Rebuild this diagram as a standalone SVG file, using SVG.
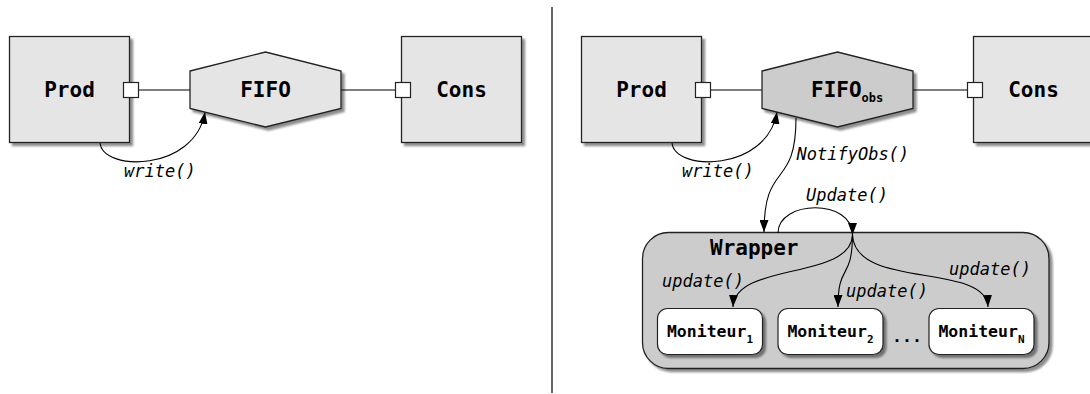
<svg xmlns="http://www.w3.org/2000/svg" width="1090" height="394" viewBox="0 0 1090 394">
<defs>
<filter id="sh" x="-10%" y="-10%" width="130%" height="130%">
<feGaussianBlur in="SourceAlpha" stdDeviation="1.2"/>
<feOffset dx="2.5" dy="2.5" result="b"/>
<feComponentTransfer><feFuncA type="linear" slope="0.45"/></feComponentTransfer>
<feMerge><feMergeNode/><feMergeNode in="SourceGraphic"/></feMerge>
</filter>
<marker id="ah" viewBox="0 0 12 9" refX="12" refY="4.5" markerWidth="12" markerHeight="9" markerUnits="userSpaceOnUse" orient="auto">
<path d="M0,0 L12,4.5 L0,9 Z" fill="#000"/>
</marker>
<style>
.box{fill:#e5e5e5;stroke:#222;stroke-width:1.3}
.hex{fill:#e5e5e5;stroke:#222;stroke-width:1.3}
.hexd{fill:#cccccc;stroke:#222;stroke-width:1.3}
.port{fill:#fff;stroke:#222;stroke-width:1.2}
.wrap{fill:#cccccc;stroke:#222;stroke-width:1.3}
.mon{fill:#fff;stroke:#222;stroke-width:1.2}
.ln{fill:none;stroke:#000;stroke-width:1.1}
.arr{fill:none;stroke:#000;stroke-width:1.1;marker-end:url(#ah)}
.lbl{font-family:"DejaVu Sans Mono","Liberation Mono",monospace;font-weight:bold;font-size:21px;fill:#000}
.mlbl{font-family:"DejaVu Sans Mono","Liberation Mono",monospace;font-weight:bold;font-size:16.5px;fill:#000}
.it{font-family:"DejaVu Sans Mono","Liberation Mono",monospace;font-style:italic;font-size:17px;fill:#000}
</style>
</defs>
<rect width="1090" height="394" fill="#fff"/>
<line x1="552" y1="7" x2="552" y2="393" stroke="#666" stroke-width="2"/>

<g id="wrapper"><rect class="wrap" x="642.5" y="232.5" width="406.5" height="136" rx="26" filter="url(#sh)"/><text class="lbl" x="710" y="255">Wrapper</text></g>

<g id="connectors">
<line class="ln" x1="138.5" y1="90" x2="190" y2="90"/>
<line class="ln" x1="341" y1="90" x2="395.5" y2="90"/>
<path class="arr" d="M100,142.5 C102,172 195,172 205,112"/>
<line class="ln" x1="710.5" y1="90" x2="762" y2="90"/>
<line class="ln" x1="913" y1="90" x2="967.5" y2="90"/>
<path class="arr" d="M672,142.5 C674,172 767,172 777,112"/>
<path class="arr" d="M796,118 C796,190 764,160 764,232"/>
<path class="arr" d="M778,233 C778,200 852.5,198 852.5,235"/>
<path class="arr" d="M852.5,235 C851,280 735,262 733,307"/>
<path class="arr" d="M852.5,235 C852,282 838,262 838,307"/>
<path class="arr" d="M852.5,235 C855,290 986,262 988,307"/>
</g>

<g id="prod1"><rect class="box" x="9.5" y="36.5" width="120" height="106" filter="url(#sh)"/><text class="lbl" x="69.5" y="97" text-anchor="middle">Prod</text></g>
<g id="prod1-port"><rect class="port" x="123.5" y="82.5" width="15" height="15"/></g>
<g id="fifo1"><polygon class="hex" points="190,71 265.5,52 341,71 341,108.5 265.5,127 190,108.5" filter="url(#sh)"/><text class="lbl" x="265.5" y="96.5" text-anchor="middle">FIFO</text></g>
<g id="cons1"><rect class="box" x="401.5" y="36.5" width="120" height="106" filter="url(#sh)"/><text class="lbl" x="461.5" y="97" text-anchor="middle">Cons</text></g>
<g id="cons1-port"><rect class="port" x="395.5" y="82.5" width="15" height="15"/></g>
<text class="it" x="124" y="177">write()</text>

<g id="prod2"><rect class="box" x="581.5" y="36.5" width="120" height="106" filter="url(#sh)"/><text class="lbl" x="641.5" y="97" text-anchor="middle">Prod</text></g>
<g id="prod2-port"><rect class="port" x="695.5" y="82.5" width="15" height="15"/></g>
<g id="fifo2"><polygon class="hexd" points="762,71 837.5,52 913,71 913,108.5 837.5,127 762,108.5" filter="url(#sh)"/><text class="lbl" x="811" y="96.5">FIFO<tspan font-size="12" dy="5.5">obs</tspan></text></g>
<g id="cons2"><rect class="box" x="973.5" y="36.5" width="120" height="106" filter="url(#sh)"/><text class="lbl" x="1033.5" y="97" text-anchor="middle">Cons</text></g>
<g id="cons2-port"><rect class="port" x="967.5" y="82.5" width="15" height="15"/></g>
<text class="it" x="682" y="177">write()</text>
<text class="it" x="796.5" y="160">NotifyObs()</text>

<g id="mon1"><rect class="mon" x="657.5" y="308.5" width="105" height="46" rx="10" filter="url(#sh)"/><text class="mlbl" x="710" y="337" text-anchor="middle">Moniteur<tspan font-size="11" dy="5.5">1</tspan></text></g>
<g id="mon2"><rect class="mon" x="778" y="308.5" width="105" height="46" rx="10" filter="url(#sh)"/><text class="mlbl" x="830.5" y="337" text-anchor="middle">Moniteur<tspan font-size="11" dy="5.5">2</tspan></text></g>
<g id="monN"><rect class="mon" x="929" y="308.5" width="105" height="46" rx="10" filter="url(#sh)"/><text class="mlbl" x="981.5" y="337" text-anchor="middle">Moniteur<tspan font-size="11" dy="5.5">N</tspan></text></g>
<text class="mlbl" x="907" y="342" text-anchor="middle">...</text>
<text class="it" x="806" y="201">Update()</text>
<text class="it" x="662" y="286.5">update()</text>
<text class="it" x="846" y="296.5">update()</text>
<text class="it" x="949" y="275">update()</text>
</svg>
